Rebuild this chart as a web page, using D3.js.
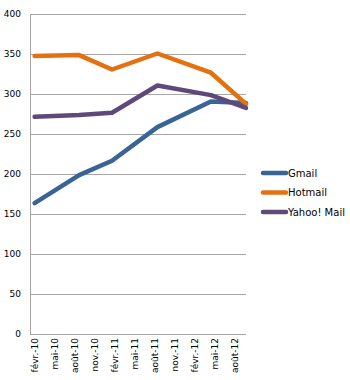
<!DOCTYPE html>
<html>
<head>
<meta charset="utf-8">
<script src="https://cdn.jsdelivr.net/npm/d3@7"></script>
<style>
  body { margin: 0; background: #fff; }
  text { font-family: "DejaVu Sans", sans-serif; fill: #000; }
</style>
</head>
<body>
<div id="chart"></div>
<script>
// data
var dates = ["2010-02-01", "2010-08-23", "2011-01-20", "2011-08-15", "2012-04-15", "2012-09-22"];
var gmail = [163, 198, 216, 258, 290, 288];
var hotmail = [347, 348, 330, 350, 326, 287];
var yahoo = [271, 273, 276, 310, 298, 282];
var tickLabels = ["févr.-10", "mai-10", "août-10", "nov.-10", "févr.-11", "mai-11",
  "août-11", "nov.-11", "févr.-12", "mai-12", "août-12"];
var yTicks = [0, 50, 100, 150, 200, 250, 300, 350, 400];

var parse = d3.timeParse("%Y-%m-%d");
var seriesList = [
  { name: "Gmail", values: gmail, color: "#386595" },
  { name: "Hotmail", values: hotmail, color: "#E5700F" },
  { name: "Yahoo! Mail", values: yahoo, color: "#5F497A" }
];

var svg = d3.select("#chart").append("svg")
  .attr("width", 350)
  .attr("height", 380);

var x = d3.scaleTime()
  .domain([parse("2010-01-11"), parse("2012-09-22")])
  .range([30, 246]);
var y = d3.scaleLinear().domain([0, 400]).range([333.5, 13.5]);

// gridlines
svg.append("g")
  .selectAll("line")
  .data(yTicks)
  .enter()
  .append("line")
  .attr("x1", 30)
  .attr("x2", 246)
  .attr("y1", (d) => Math.round(y(d)) + 0.5)
  .attr("y2", (d) => Math.round(y(d)) + 0.5)
  .attr("stroke", "#a6a6a6")
  .attr("stroke-width", 1);

// left axis line
svg.append("line")
  .attr("x1", 30.5).attr("x2", 30.5)
  .attr("y1", Math.round(y(400))).attr("y2", Math.round(y(0)) + 1)
  .attr("stroke", "#a6a6a6");

// y tick labels
svg.append("g")
  .selectAll("text")
  .data(yTicks)
  .enter()
  .append("text")
  .attr("x", 21)
  .attr("y", (d) => y(d) + 3.5)
  .style("text-anchor", "end")
  .style("font-size", "9px")
  .text((d) => d);

// x tick labels (first of each 3rd month)
var tickDates = d3.range(tickLabels.length).map(function (i) {
  return new Date(2010, 1 + i * 3, 1);
});
svg.append("g")
  .selectAll("text")
  .data(tickDates)
  .enter()
  .append("text")
  .attr("transform", (d) => "translate(" + (x(d) + 3.5) + "," + 338 + ") rotate(-90)")
  .style("text-anchor", "end")
  .style("font-size", "9px")
  .text((d, i) => tickLabels[i]);

// lines
var line = d3.line()
  .x((d, i) => x(parse(dates[i])))
  .y((d) => y(d));

svg.append("g")
  .selectAll("path")
  .data(seriesList)
  .enter()
  .append("path")
  .attr("d", (s) => line(s.values))
  .attr("fill", "none")
  .attr("stroke", (s) => s.color)
  .attr("stroke-width", 4.5)
  .attr("stroke-linejoin", "round")
  .attr("stroke-linecap", "round");

// legend
var legend = svg.append("g")
  .selectAll("g")
  .data(seriesList)
  .enter()
  .append("g")
  .attr("transform", (s, i) => "translate(262," + (173 + i * 19.5) + ")");

legend.append("line")
  .attr("x1", 1).attr("x2", 24)
  .attr("stroke", (s) => s.color)
  .attr("stroke-width", 4.5)
  .attr("stroke-linecap", "round");

legend.append("text")
  .attr("x", 26)
  .attr("y", 3.5)
  .style("font-size", "10px")
  .text((s) => s.name);
</script>
</body>
</html>
